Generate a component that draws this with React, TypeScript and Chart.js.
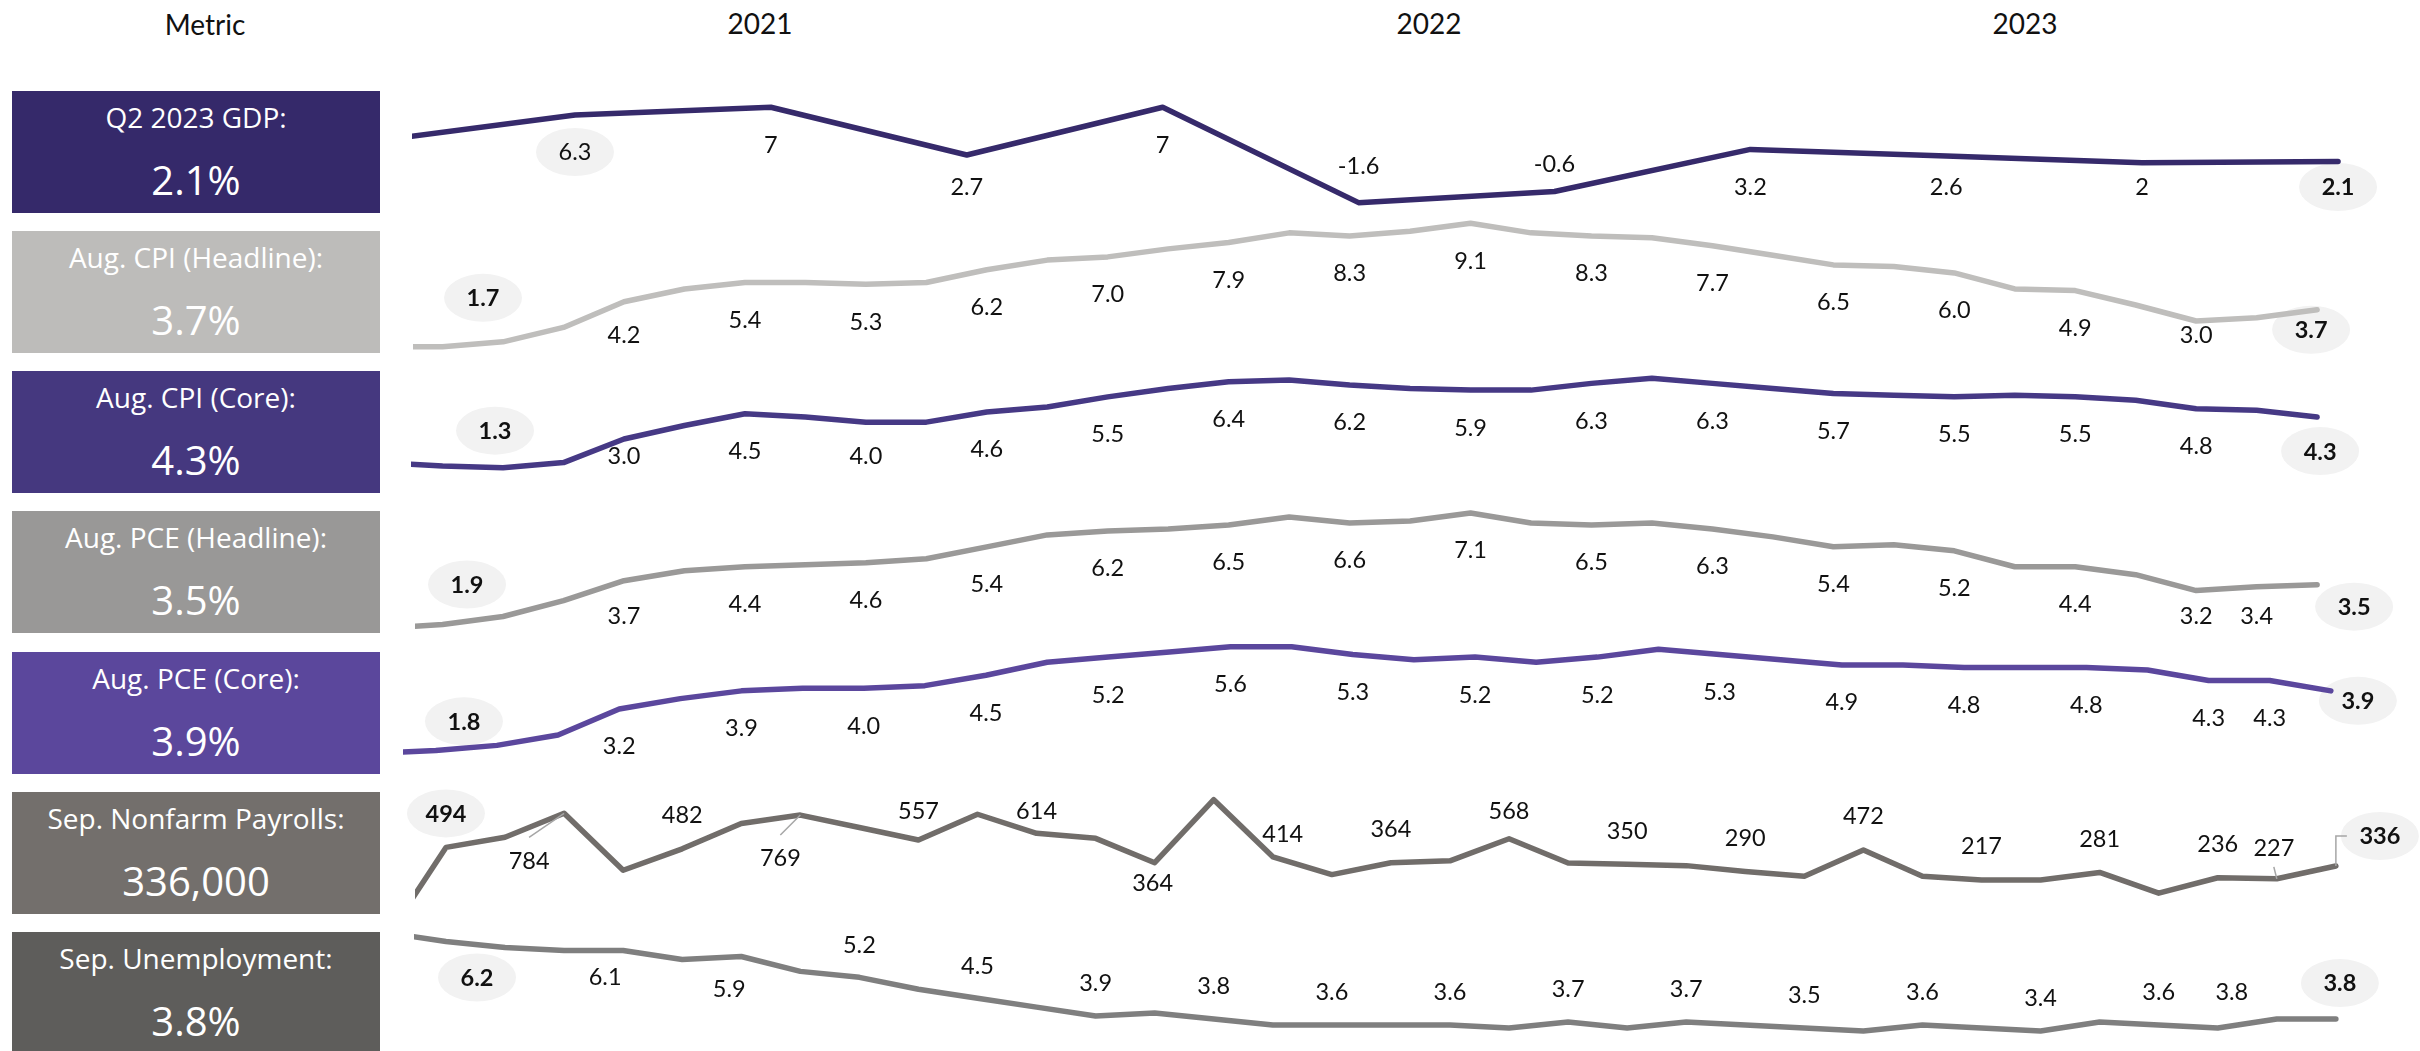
import React, { useEffect, useRef } from "react";
import { Chart, registerables } from "chart.js";

Chart.register(...registerables);

// ---------- data ----------
const headerMetric = "Metric";
const yearHeaders = ["2021", "2022", "2023"];

// Real GDP growth, annualised %, Q4 2020 .. Q2 2023
const gdpQuarters = ["Q4 2020", "Q1 2021", "Q2 2021", "Q3 2021", "Q4 2021", "Q1 2022", "Q2 2022", "Q3 2022", "Q4 2022", "Q1 2023", "Q2 2023"];
const gdpGrowth = [4.0, 6.3, 7.0, 2.7, 7.0, -1.6, -0.6, 3.2, 2.6, 2.0, 2.1];

// Year-over-year %, Dec 2020 .. Aug 2023
const cpiHeadline = [1.4, 1.4, 1.7, 2.6, 4.2, 5.0, 5.4, 5.4, 5.3, 5.4, 6.2, 6.8, 7.0, 7.5, 7.9, 8.5, 8.3, 8.6, 9.1, 8.5, 8.3, 8.2, 7.7, 7.1, 6.5, 6.4, 6.0, 5.0, 4.9, 4.0, 3.0, 3.2, 3.7];
const cpiCore = [1.6, 1.4, 1.3, 1.6, 3.0, 3.8, 4.5, 4.3, 4.0, 4.0, 4.6, 4.9, 5.5, 6.0, 6.4, 6.5, 6.2, 6.0, 5.9, 5.9, 6.3, 6.6, 6.3, 6.0, 5.7, 5.6, 5.5, 5.6, 5.5, 5.3, 4.8, 4.7, 4.3];
const pceHeadline = [1.3, 1.5, 1.9, 2.7, 3.7, 4.2, 4.4, 4.5, 4.6, 4.8, 5.4, 6.0, 6.2, 6.3, 6.5, 6.9, 6.6, 6.7, 7.1, 6.6, 6.5, 6.6, 6.3, 5.9, 5.4, 5.5, 5.2, 4.4, 4.4, 4.0, 3.2, 3.4, 3.5];
const pceCore = [1.5, 1.6, 1.8, 2.2, 3.2, 3.6, 3.9, 4.0, 4.0, 4.1, 4.5, 5.0, 5.2, 5.4, 5.6, 5.6, 5.3, 5.1, 5.2, 5.0, 5.2, 5.5, 5.3, 5.1, 4.9, 4.9, 4.8, 4.8, 4.8, 4.7, 4.3, 4.3, 3.9];

// Dec 2020 .. Sep 2023
const payrollsK = [-268, 494, 580, 784, 300, 482, 697, 769, 663, 557, 776, 614, 571, 364, 900, 414, 263, 364, 380, 568, 362, 350, 339, 290, 249, 472, 248, 217, 217, 281, 105, 236, 227, 336];
const unemploymentRate = [6.7, 6.4, 6.2, 6.1, 6.1, 5.8, 5.9, 5.4, 5.2, 4.8, 4.5, 4.2, 3.9, 4.0, 3.8, 3.6, 3.6, 3.6, 3.6, 3.5, 3.7, 3.5, 3.7, 3.6, 3.5, 3.4, 3.6, 3.5, 3.4, 3.7, 3.6, 3.5, 3.8, 3.8];

const monthNames = ["Jan", "Feb", "Mar", "Apr", "May", "Jun", "Jul", "Aug", "Sep", "Oct", "Nov", "Dec"];
const monthsFromDec2020 = (n: number) =>
  Array.from({ length: n }, (_, i) => `${monthNames[(i + 11) % 12]} ${2020 + Math.floor((i + 11) / 12)}`);
const monthsToAug2023 = monthsFromDec2020(33);
const monthsToSep2023 = monthsFromDec2020(34);

const metricTitles = [
  "Q2 2023 GDP:",
  "Aug. CPI (Headline):",
  "Aug. CPI (Core):",
  "Aug. PCE (Headline):",
  "Aug. PCE (Core):",
  "Sep. Nonfarm Payrolls:",
  "Sep. Unemployment:",
];

// ---------- formatting / layout ----------
const general = (v: number) => String(v);
const oneDecimal = (v: number) => v.toFixed(1);
const integer = (v: number) => String(Math.round(v));

const range = (from: number, to: number, step = 1) => {
  const out: number[] = [];
  for (let i = from; i <= to; i += step) out.push(i);
  return out;
};

type Nudge = [number, number, ("line" | "elbow")?];
interface Row {
  title: string;
  values: number[];
  categories: string[];
  fmt: (v: number) => string;
  headline: string;
  boxColor: string;
  lineColor: string;
  xRange: [number, number];
  yRange: [number, number];
  clipLeft: number;
  labelAt: number[];
  side: "above" | "below";
  gap: number;
  band: [number, number];
  nudges: Record<number, Nudge>;
  ellipse: Record<number, boolean>; // value = bold
}

const last = (a: number[]) => a[a.length - 1];

const rows: Row[] = [
  {
    title: metricTitles[0], values: gdpGrowth, categories: gdpQuarters, fmt: general,
    headline: `${last(gdpGrowth).toFixed(1)}%`,
    boxColor: "#35296a", lineColor: "#362a6b",
    xRange: [0.122, 10.061], yRange: [-78.1, 16.673], clipLeft: -9,
    labelAt: range(1, 10), side: "below", gap: 37, band: [0, 187],
    nudges: { 5: [0, -37], 6: [0, -28] },
    ellipse: { 1: false, 10: true },
  },
  {
    title: metricTitles[1], values: cpiHeadline, categories: monthsToAug2023, fmt: oneDecimal,
    headline: `${last(cpiHeadline).toFixed(1)}%`,
    boxColor: "#bdbcba", lineColor: "#bfbebc",
    xRange: [0.3456, 32.544], yRange: [-42.54, 23.026], clipLeft: -10,
    labelAt: range(2, 32, 2), side: "below", gap: 37, band: [0, 335],
    nudges: { 2: [-20, -44], 32: [-6, 20] },
    ellipse: { 2: true, 32: true },
  },
  {
    title: metricTitles[2], values: cpiCore, categories: monthsToAug2023, fmt: oneDecimal,
    headline: `${last(cpiCore).toFixed(1)}%`,
    boxColor: "#45387f", lineColor: "#463985",
    xRange: [0.3456, 32.544], yRange: [-33.3, 29.04], clipLeft: -8,
    labelAt: range(2, 32, 2), side: "below", gap: 37, band: [0, 456],
    nudges: { 2: [-8, -37], 32: [3, 34] },
    ellipse: { 2: true, 32: true },
  },
  {
    title: metricTitles[3], values: pceHeadline, categories: monthsToAug2023, fmt: oneDecimal,
    headline: `${last(pceHeadline).toFixed(1)}%`,
    boxColor: "#999897", lineColor: "#9a9998",
    xRange: [0.3456, 32.544], yRange: [-19.935, 32.879], clipLeft: -12,
    labelAt: [...range(2, 30, 2), 31, 32], side: "below", gap: 37, band: [0, 616],
    nudges: { 2: [-36, -32], 32: [37, 22] },
    ellipse: { 2: true, 32: true },
  },
  {
    title: metricTitles[4], values: pceCore, categories: monthsToAug2023, fmt: oneDecimal,
    headline: `${last(pceCore).toFixed(1)}%`,
    boxColor: "#5b479c", lineColor: "#5b479d",
    xRange: [0.463, 32.313], yRange: [-9.973, 30.512], clipLeft: 0,
    labelAt: [...range(2, 30, 2), 31, 32], side: "below", gap: 37, band: [0, 1051],
    nudges: { 2: [-33, -24], 32: [27, 10] },
    ellipse: { 2: true, 32: true },
  },
  {
    title: metricTitles[5], values: payrollsK, categories: monthsToSep2023, fmt: integer,
    headline: `${(last(payrollsK) * 1000).toLocaleString("en-US")}`,
    boxColor: "#736f6c", lineColor: "#716d6a",
    xRange: [0.2726, 33.239], yRange: [-1237.2, 7699.8], clipLeft: -12,
    labelAt: [...range(1, 31, 2), 32, 33], side: "above", gap: 34, band: [811, 1051],
    nudges: {
      3: [-35, 47, "line"],
      7: [-20, 43, "line"],
      13: [-2, 20],
      15: [10, -23],
      32: [-3, -31, "line"],
      33: [44, -30, "elbow"],
    },
    ellipse: { 1: true, 33: true },
  },
  {
    title: metricTitles[6], values: unemploymentRate, categories: monthsToSep2023, fmt: oneDecimal,
    headline: `${last(unemploymentRate).toFixed(1)}%`,
    boxColor: "#5e5d5b", lineColor: "#7f7f7f",
    xRange: [0.2726, 33.239], yRange: [2.728, 37.997], clipLeft: -11,
    labelAt: [...range(2, 32, 2), 33], side: "above", gap: 33, band: [0, 1051],
    nudges: { 2: [-28, 30], 4: [-18, 26], 6: [-12, 32], 32: [-45, -27], 33: [4, -36] },
    ellipse: { 2: true, 33: true },
  },
];

const PAGE_W = 2420;
const PAGE_H = 1051;
const PLOT_LEFT = 403;
const PLOT_RIGHT = 2350;
const BOX_LEFT = 12;
const BOX_W = 368;
const BOX_H = 122;
const BOX_TOP = 91;
const ROW_PITCH = 140.15;
const yearHeaderX = [760, 1429, 2025];

const LABEL_FONT = "Lato, 'Noto Sans', sans-serif";
const LABEL_SIZE = 23.5;

interface PlacedLabel {
  text: string;
  x: number;
  y: number;
  px: number;
  py: number;
  ellipse: boolean;
  bold: boolean;
  leader?: "line" | "elbow";
}

function placeLabels(chart: Chart): PlacedLabel[] {
  const out: PlacedLabel[] = [];
  rows.forEach((row, di) => {
    const meta = chart.getDatasetMeta(di);
    row.labelAt.forEach((i) => {
      const pt = meta.data[i] as any;
      if (!pt) return;
      const px = pt.x as number;
      const py = pt.y as number;
      const nudge = row.nudges[i];
      let x = px;
      let y: number;
      if (nudge) {
        x = px + nudge[0];
        y = py + nudge[1];
      } else {
        y = row.side === "below" ? py + row.gap : py - row.gap;
        y = Math.min(Math.max(y, row.band[0]), row.band[1]);
      }
      const hasEllipse = Object.prototype.hasOwnProperty.call(row.ellipse, i);
      out.push({
        text: row.fmt(row.values[i]),
        x,
        y,
        px,
        py,
        ellipse: hasEllipse,
        bold: hasEllipse ? row.ellipse[i] : false,
        leader: nudge ? nudge[2] : undefined,
      });
    });
  });
  return out;
}

const pointLabels = {
  id: "pointLabels",
  beforeDatasetsDraw(chart: Chart) {
    const ctx = chart.ctx;
    ctx.save();
    ctx.fillStyle = "#f2f2f2";
    placeLabels(chart).forEach((l) => {
      if (!l.ellipse) return;
      ctx.beginPath();
      ctx.ellipse(l.x, l.y, 39, 24, 0, 0, Math.PI * 2);
      ctx.fill();
    });
    ctx.restore();
  },
  afterDatasetsDraw(chart: Chart) {
    const ctx = chart.ctx;
    ctx.save();
    const labels = placeLabels(chart);
    ctx.strokeStyle = "#a6a6a6";
    ctx.lineWidth = 1.5;
    labels.forEach((l) => {
      if (!l.leader) return;
      ctx.beginPath();
      if (l.leader === "elbow") {
        ctx.moveTo(l.px, l.py);
        ctx.lineTo(l.px, l.y);
        ctx.lineTo(l.x - 33, l.y);
      } else {
        const sy = l.y > l.py ? l.y - 23 : l.y + 19;
        ctx.moveTo(l.x, sy);
        ctx.lineTo(l.px, l.py);
      }
      ctx.stroke();
    });
    ctx.textAlign = "center";
    ctx.textBaseline = "alphabetic";
    ctx.fillStyle = "#111111";
    labels.forEach((l) => {
      ctx.font = `${l.bold ? "700 " : ""}${LABEL_SIZE}px ${LABEL_FONT}`;
      ctx.fillText(l.text, l.x, l.y + LABEL_SIZE * 0.358);
    });
    ctx.restore();
  },
};

export default function App() {
  const canvasRef = useRef<HTMLCanvasElement | null>(null);

  useEffect(() => {
    const canvas = canvasRef.current;
    if (!canvas) return;
    const scales: Record<string, any> = {};
    rows.forEach((row, r) => {
      scales[`x${r}`] = { type: "linear", display: false, min: row.xRange[0], max: row.xRange[1] };
      scales[`y${r}`] = { type: "linear", display: false, min: row.yRange[0], max: row.yRange[1] };
    });
    const chart = new Chart(canvas, {
      type: "line",
      data: {
        datasets: rows.map((row, r) => ({
          label: row.title,
          data: row.values.map((v, i) => ({ x: i, y: v, category: row.categories[i] })),
          xAxisID: `x${r}`,
          yAxisID: `y${r}`,
          borderColor: row.lineColor,
          backgroundColor: row.lineColor,
          borderWidth: 5.5,
          borderJoinStyle: "round",
          borderCapStyle: "round",
          pointRadius: 0,
          pointHoverRadius: 0,
          tension: 0,
          fill: false,
          clip: { left: row.clipLeft, right: 60, top: 60, bottom: 60 },
        })) as any,
      },
      options: {
        responsive: false,
        maintainAspectRatio: false,
        animation: false,
        events: [],
        layout: { padding: { left: PLOT_LEFT, right: PAGE_W - PLOT_RIGHT, top: 0, bottom: 0 } },
        plugins: {
          legend: { display: false },
          tooltip: { enabled: false },
          title: { display: false },
        },
        scales,
      },
      plugins: [pointLabels],
    });
    return () => chart.destroy();
  }, []);

  const headerStyle: React.CSSProperties = {
    position: "absolute",
    top: 23,
    transform: "translate(-50%, -50%)",
    font: "28px Lato, 'Noto Sans', sans-serif",
    lineHeight: 1,
    color: "#111",
    whiteSpace: "nowrap",
  };

  return (
    <div
      style={{
        position: "absolute",
        left: 0,
        top: 0,
        width: PAGE_W,
        height: PAGE_H,
        overflow: "hidden",
        background: "#ffffff",
      }}
    >
      <div style={{ ...headerStyle, left: 205, top: 24 }}>{headerMetric}</div>
      {yearHeaders.map((y, i) => (
        <div key={y} style={{ ...headerStyle, left: yearHeaderX[i] }}>
          {y}
        </div>
      ))}
      {rows.map((row, i) => (
        <div
          key={row.title}
          style={{
            position: "absolute",
            left: BOX_LEFT,
            top: Math.round(BOX_TOP + i * ROW_PITCH),
            width: BOX_W,
            height: BOX_H,
            background: row.boxColor,
            color: "#ffffff",
            fontFamily: "'Open Sans', 'Noto Sans', sans-serif",
          }}
        >
          <div
            style={{
              position: "absolute",
              left: 0,
              right: 0,
              top: 26,
              transform: "translateY(-50%)",
              textAlign: "center",
              fontSize: 28,
              lineHeight: 1,
              whiteSpace: "nowrap",
            }}
          >
            {row.title}
          </div>
          <div
            style={{
              position: "absolute",
              left: 0,
              right: 0,
              top: 89,
              transform: "translateY(-50%)",
              textAlign: "center",
              fontSize: 40,
              lineHeight: 1,
              whiteSpace: "nowrap",
            }}
          >
            {row.headline}
          </div>
        </div>
      ))}
      <canvas
        ref={canvasRef}
        width={PAGE_W}
        height={PAGE_H}
        style={{ position: "absolute", left: 0, top: 0, width: PAGE_W, height: PAGE_H }}
      />
    </div>
  );
}
